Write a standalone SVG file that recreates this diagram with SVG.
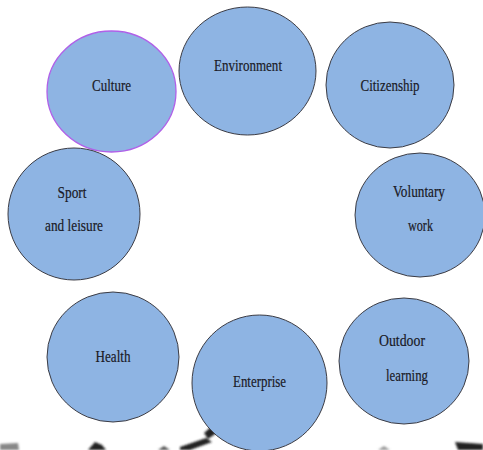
<svg xmlns="http://www.w3.org/2000/svg" width="483" height="450" viewBox="0 0 483 450">
<style>
.n{fill:#8eb4e3;stroke:#3c3c44;stroke-width:1}
.p{stroke:#b060e8;stroke-width:1.3}
.t{font-family:"Liberation Serif","DejaVu Serif",serif;font-size:17px;fill:#1a1a26;text-anchor:middle;stroke:#1a1a26;stroke-width:0.2}
</style>
<defs><filter id="b" x="-50%" y="-50%" width="200%" height="200%"><feGaussianBlur stdDeviation="1.2"/></filter></defs>
<rect width="483" height="450" fill="#fff"/>
<g id="scribbles" filter="url(#b)" fill="#222">
<path d="M0 444 L18 443 L19 450 L0 450 Z" fill="#888"/>
<path d="M88 450 L95 442 L102 445 L106 450 Z"/>
<path d="M158 450 L164 446 L170 450 Z" fill="#555"/>
<path d="M204 433 L212 426 L218 432 L208 439 Z"/>
<path d="M180 447 L206 438 L212 442 L190 450 L180 450 Z"/>
<path d="M378 450 L384 446 L390 450 Z" fill="#999"/>
<path d="M455 442 L483 444 L483 450 L458 450 Z"/>
</g>
<g id="connectors"></g>
<g id="culture"><ellipse class="n p" cx="111.5" cy="91.5" rx="64.5" ry="60.5"/><text class="t" x="111.5" y="91" textLength="39" lengthAdjust="spacingAndGlyphs">Culture</text></g>
<g id="environment"><ellipse class="n" cx="247.5" cy="71" rx="68.5" ry="64"/><text class="t" x="248" y="71" textLength="68" lengthAdjust="spacingAndGlyphs">Environment</text></g>
<g id="citizenship"><ellipse class="n" cx="390" cy="85" rx="64" ry="63"/><text class="t" x="390" y="91" textLength="59" lengthAdjust="spacingAndGlyphs">Citizenship</text></g>
<g id="sport"><ellipse class="n" cx="74" cy="214" rx="66" ry="66"/><text class="t" x="72" y="198" textLength="29" lengthAdjust="spacingAndGlyphs">Sport</text><text class="t" x="74" y="231" textLength="58" lengthAdjust="spacingAndGlyphs">and leisure</text></g>
<g id="voluntary"><ellipse class="n" cx="420" cy="215" rx="65" ry="62"/><text class="t" x="419" y="197" textLength="52" lengthAdjust="spacingAndGlyphs">Voluntary</text><text class="t" x="420.5" y="231" textLength="25" lengthAdjust="spacingAndGlyphs">work</text></g>
<g id="health"><ellipse class="n" cx="113" cy="357" rx="66" ry="65"/><text class="t" x="113" y="362" textLength="35" lengthAdjust="spacingAndGlyphs">Health</text></g>
<g id="enterprise"><ellipse class="n" cx="259.5" cy="383" rx="67.5" ry="68"/><text class="t" x="259.5" y="387" textLength="53" lengthAdjust="spacingAndGlyphs">Enterprise</text></g>
<g id="outdoor"><ellipse class="n" cx="404" cy="361" rx="65" ry="63"/><text class="t" x="402" y="346" textLength="46" lengthAdjust="spacingAndGlyphs">Outdoor</text><text class="t" x="407" y="381" textLength="42" lengthAdjust="spacingAndGlyphs">learning</text></g>
</svg>
